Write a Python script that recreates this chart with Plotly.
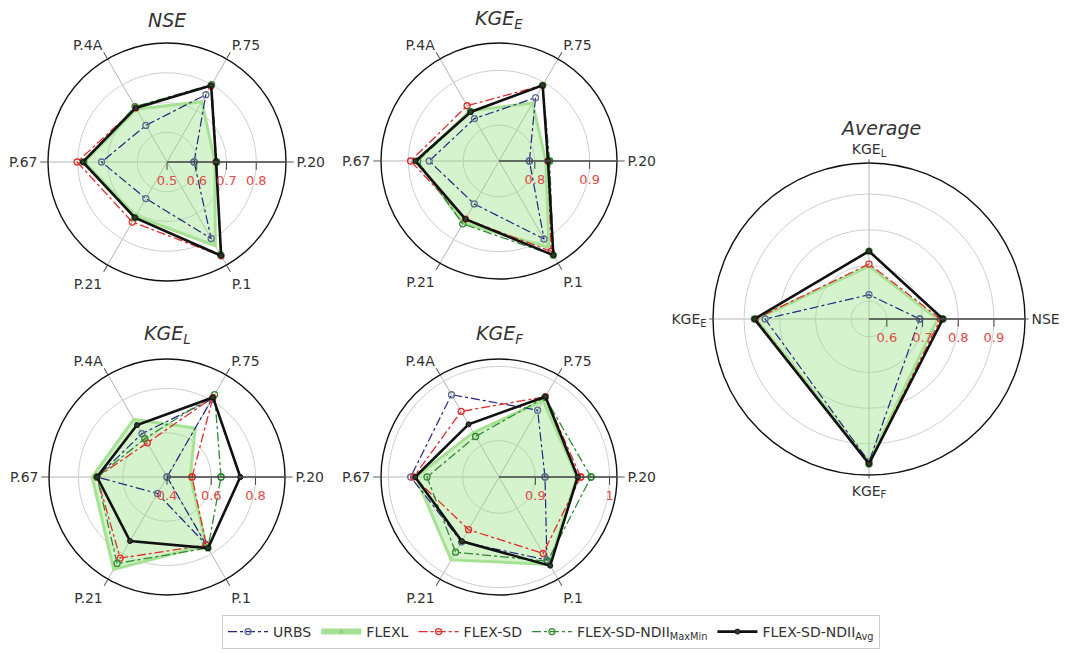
import plotly.graph_objects as go

# ---------------- data ----------------
stations = ["P.20", "P.75", "P.4A", "P.67", "P.21", "P.1"]
metrics_avg = ["NSE", "KGE<sub>L</sub>", "KGE<sub>E</sub>", "KGE<sub>F</sub>"]
models = ["URBS", "FLEXL", "FLEX-SD", "FLEX-SD-NDII<sub>MaxMin</sub>", "FLEX-SD-NDII<sub>Avg</sub>"]

nse_urbs = [0.591, 0.761, 0.642, 0.720, 0.642, 0.797]
nse_flexl = [0.661, 0.734, 0.705, 0.778, 0.710, 0.825]
nse_flexsd = [0.665, 0.795, 0.710, 0.802, 0.733, 0.864]
nse_maxmin = [0.667, 0.800, 0.715, 0.780, 0.716, 0.860]
nse_avg = [0.665, 0.797, 0.710, 0.783, 0.716, 0.864]

kgee_urbs = [0.790, 0.868, 0.824, 0.862, 0.825, 0.899]
kgee_flexl = [0.820, 0.857, 0.840, 0.885, 0.865, 0.917]
kgee_flexsd = [0.824, 0.894, 0.851, 0.896, 0.857, 0.925]
kgee_maxmin = [0.827, 0.894, 0.839, 0.883, 0.867, 0.933]
kgee_avg = [0.824, 0.894, 0.838, 0.887, 0.857, 0.933]

kgel_urbs = [0.400, 0.805, 0.626, 0.716, 0.486, 0.750]
kgel_flexl = [0.505, 0.655, 0.700, 0.738, 0.882, 0.755]
kgel_flexsd = [0.513, 0.815, 0.578, 0.716, 0.823, 0.755]
kgel_maxmin = [0.644, 0.830, 0.600, 0.716, 0.851, 0.770]
kgel_avg = [0.731, 0.815, 0.671, 0.716, 0.734, 0.771]

kgef_urbs = [0.913, 0.955, 0.979, 0.970, 0.952, 0.980]
kgef_flexl = [0.956, 0.970, 0.920, 0.963, 0.980, 0.987]
kgef_flexsd = [0.961, 0.976, 0.953, 0.966, 0.933, 0.970]
kgef_maxmin = [0.975, 0.975, 0.914, 0.948, 0.968, 0.982]
kgef_avg = [0.957, 0.976, 0.933, 0.964, 0.951, 0.989]

avg_urbs = [0.692, 0.618, 0.841, 0.950]
avg_flexl = [0.742, 0.698, 0.866, 0.950]
avg_flexsd = [0.750, 0.704, 0.868, 0.955]
avg_maxmin = [0.757, 0.740, 0.871, 0.956]
avg_avg = [0.757, 0.740, 0.871, 0.956]

panel_titles = ["<i>NSE</i>", "<i>KGE<sub>E</sub></i>", "<i>KGE<sub>L</sub></i>",
                "<i>KGE<sub>F</sub></i>", "<i>Average</i>"]
radial_ranges = [[0.5, 0.9], [0.7345, 0.95], [0.4, 0.933], [0.851, 1.01], [0.55, 0.987]]
radial_ticks = [[0.5, 0.6, 0.7, 0.8], [0.8, 0.9], [0.4, 0.6, 0.8], [0.9, 1.0], [0.6, 0.7, 0.8, 0.9]]
radial_ticktext = [["0.5", "0.6", "0.7", "0.8"], ["0.8", "0.9"], ["0.4", "0.6", "0.8"],
                   ["0.9", "1"], ["0.6", "0.7", "0.8", "0.9"]]

# ---------------- layout geometry (window pixels) ----------------
PAGE_MARGIN = 8          # default body margin of the html page
W, H = 1070 - PAGE_MARGIN, 653 - PAGE_MARGIN
centers = [(167, 162), (499, 161), (167, 477), (499, 477), (869, 319)]
radii = [119, 118, 118, 118, 156]
angular_ticklen = [7, 7, 7, 7, 3]
title_pos = [(167, 20), (499, 20), (167, 334), (499, 334), (880, 128)]
legend_y = 632


def px_x(x):
    return (x - PAGE_MARGIN) / W


def px_y(y):
    return 1 - (y - PAGE_MARGIN) / H


FONT = "DejaVu Sans"
C_URBS = "#26267f"
C_URBS_M = "#5a6e8e"
C_FLEXL = "#a6e293"
C_FLEXL_FILL = "rgba(150,225,130,0.40)"
C_SD = "#e32b2b"
C_MM = "#2f8a2f"
C_AVG = "#111111"

panels = [
    (stations, [nse_urbs, nse_flexl, nse_flexsd, nse_maxmin, nse_avg]),
    (stations, [kgee_urbs, kgee_flexl, kgee_flexsd, kgee_maxmin, kgee_avg]),
    (stations, [kgel_urbs, kgel_flexl, kgel_flexsd, kgel_maxmin, kgel_avg]),
    (stations, [kgef_urbs, kgef_flexl, kgef_flexsd, kgef_maxmin, kgef_avg]),
    (metrics_avg, [avg_urbs, avg_flexl, avg_flexsd, avg_maxmin, avg_avg]),
]


def closed(a):
    return list(a) + [a[0]]


fig = go.Figure()

for i, (cats, series) in enumerate(panels):
    sp = "polar" if i == 0 else f"polar{i + 1}"
    th = closed(cats)
    u, fl, sd, mm, av = series
    fig.add_trace(go.Scatterpolar(
        r=closed(fl), theta=th, subplot=sp, mode="lines", fill="toself",
        fillcolor=C_FLEXL_FILL, line=dict(color=C_FLEXL, width=3),
        name=models[1], showlegend=False, hoverinfo="skip"))
    fig.add_trace(go.Scatterpolar(
        r=closed(u), theta=th, subplot=sp, mode="lines+markers",
        line=dict(color=C_URBS, width=1.2, dash="dashdot"),
        marker=dict(symbol="circle-open", size=6, color=C_URBS_M, line=dict(width=1.3)),
        name=models[0], showlegend=(i == 0), legendrank=1))
    fig.add_trace(go.Scatterpolar(
        r=closed(sd), theta=th, subplot=sp, mode="lines+markers",
        line=dict(color=C_SD, width=1.3, dash="dashdot"),
        marker=dict(symbol="circle-open", size=6, color=C_SD, line=dict(width=1.3)),
        name=models[2], showlegend=(i == 0), legendrank=3))
    fig.add_trace(go.Scatterpolar(
        r=closed(mm), theta=th, subplot=sp, mode="lines+markers",
        line=dict(color=C_MM, width=1.3, dash="dashdot"),
        marker=dict(symbol="circle-open", size=6, color=C_MM, line=dict(width=1.3)),
        name=models[3], showlegend=(i == 0), legendrank=4))
    fig.add_trace(go.Scatterpolar(
        r=closed(av), theta=th, subplot=sp, mode="lines+markers",
        line=dict(color=C_AVG, width=2.6),
        marker=dict(symbol="circle", size=5, color="#2c3a2c", line=dict(width=1, color="#111")),
        name=models[4], showlegend=(i == 0), legendrank=5))
    if i == 0:
        fig.add_trace(go.Scatterpolar(
            r=[None], theta=[cats[0]], subplot=sp, mode="lines+markers",
            line=dict(color=C_FLEXL, width=6),
            marker=dict(symbol="circle", size=4, color="#8fd47c"),
            name=models[1], showlegend=True, legendrank=2))

layout_polars = {}
for i in range(5):
    cx, cy = centers[i]
    r = radii[i]
    key = "polar" if i == 0 else f"polar{i + 1}"
    layout_polars[key] = dict(
        domain=dict(x=[px_x(cx - r), px_x(cx + r)], y=[px_y(cy + r), px_y(cy - r)]),
        bgcolor="white",
        radialaxis=dict(
            range=radial_ranges[i], tickvals=radial_ticks[i], ticktext=radial_ticktext[i],
            angle=0, side="clockwise", tickangle=0,
            tickfont=dict(color="#e04a4a", size=13, family=FONT),
            showline=True, linecolor="#444444", linewidth=1.6,
            ticks="outside", ticklen=7, tickcolor="#444444",
            showgrid=True, gridcolor="#cfcfcf", gridwidth=1.2,
        ),
        angularaxis=dict(
            direction="counterclockwise", rotation=0,
            showline=True, linecolor="#111111", linewidth=1.4,
            showgrid=True, gridcolor="#b5b5b5", gridwidth=1.1,
            ticks="outside", ticklen=angular_ticklen[i], tickcolor="#555555",
            tickfont=dict(size=14, color="#333333", family=FONT),
        ),
    )

annotations = []
for i, (tx, ty) in enumerate(title_pos):
    annotations.append(dict(
        text=panel_titles[i], x=px_x(tx), y=px_y(ty), xref="paper", yref="paper",
        showarrow=False, xanchor="center", yanchor="middle",
        font=dict(size=19, color="#333333", family=FONT)))

fig.update_layout(
    width=W, height=H,
    margin=dict(l=0, r=0, t=0, b=0),
    paper_bgcolor="white",
    font=dict(family=FONT, color="#333333"),
    annotations=annotations,
    legend=dict(
        orientation="h", x=px_x(551), xanchor="center", y=px_y(legend_y), yanchor="middle",
        bordercolor="#cccccc", borderwidth=1, bgcolor="white",
        font=dict(size=14, color="#333333", family=FONT),
        itemwidth=40,
    ),
    showlegend=True,
    **layout_polars,
)

fig.write_html("out.html")
